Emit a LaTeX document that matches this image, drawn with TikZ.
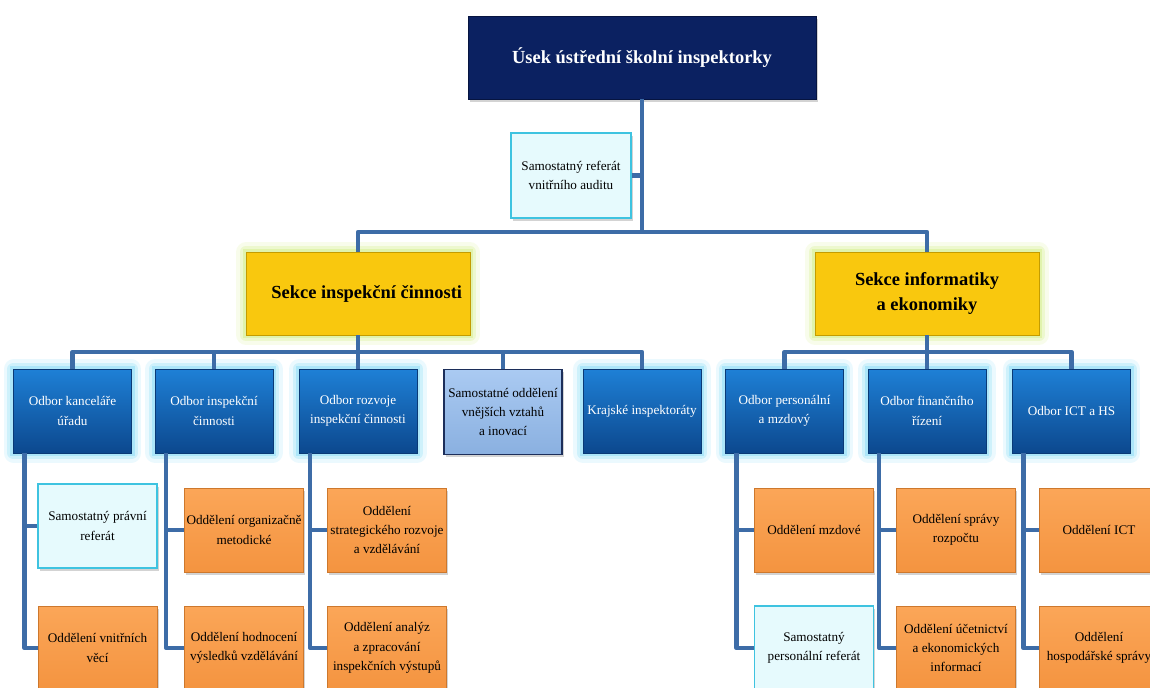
\documentclass[tikz,border=0pt]{standalone}
\usepackage{fontspec}
\setmainfont{Liberation Serif}
\usetikzlibrary{shadows}

\definecolor{navy}{RGB}{11,33,97}
\definecolor{navyline}{RGB}{6,20,64}
\definecolor{gold}{RGB}{249,200,14}
\definecolor{goldline}{RGB}{196,156,0}
\definecolor{goldglow}{RGB}{205,236,120}
\definecolor{odbtop}{RGB}{30,128,214}
\definecolor{odbbot}{RGB}{12,72,142}
\definecolor{odbline}{RGB}{10,58,118}
\definecolor{odbglow}{RGB}{120,215,245}
\definecolor{oddtop}{RGB}{251,166,88}
\definecolor{oddbot}{RGB}{244,148,64}
\definecolor{oddline}{RGB}{205,120,45}
\definecolor{reffill}{RGB}{230,250,253}
\definecolor{refline}{RGB}{62,195,224}
\definecolor{vztahtop}{RGB}{170,202,242}
\definecolor{vztahbot}{RGB}{138,176,224}
\definecolor{vztahline}{RGB}{28,46,90}
\definecolor{linka}{RGB}{61,108,167}
\def\drobne{\fontsize{7.5}{11}\selectfont}
\def\velke{\fontsize{10.5}{14.5}\selectfont\bfseries}
\tikzstyle{stin}=[drop shadow={shadow xshift=1pt,shadow yshift=-1.5pt,opacity=.35}]
\tikzstyle{usek}=[draw=navyline,fill=navy,text=white,font=\velke,
                  minimum width=6.96cm,minimum height=1.66cm,stin]
\tikzstyle{sekce}=[draw=goldline,fill=gold,font=\velke,align=center,
                   minimum width=4.48cm,minimum height=1.66cm,
                   preaction={draw=goldglow,line width=11pt,opacity=.15,line join=round},
                   preaction={draw=goldglow,line width=7pt,opacity=.25,line join=round},
                   preaction={draw=goldglow,line width=3.5pt,opacity=.4}]
\tikzstyle{odbor}=[draw=odbline,top color=odbtop,bottom color=odbbot,text=white,
                   font=\drobne,align=center,inner sep=1pt,
                   minimum width=2.36cm,minimum height=1.68cm,
                   preaction={draw=odbglow,line width=11pt,opacity=.15,line join=round},
                   preaction={draw=odbglow,line width=7pt,opacity=.25,line join=round},
                   preaction={draw=odbglow,line width=3.5pt,opacity=.4}]
\tikzstyle{vztahy}=[draw=vztahline,line width=1pt,top color=vztahtop,bottom color=vztahbot,
                    font=\drobne,align=center,inner sep=1pt,
                    minimum width=2.36cm,minimum height=1.7cm,stin]
\tikzstyle{oddeleni}=[draw=oddline,top color=oddtop,bottom color=oddbot,font=\drobne,
                      align=center,inner sep=1pt,
                      minimum width=2.38cm,minimum height=1.68cm,stin]
\tikzstyle{referat}=[draw=refline,line width=0.8pt,fill=reffill,font=\drobne,align=center,
                     inner sep=1pt,minimum width=2.38cm,minimum height=1.68cm,stin]
\tikzstyle{spoj}=[draw=linka,line width=0.09cm,line join=round]

\begin{document}
\begin{tikzpicture}[x=0.02cm,y=-0.02cm]
  \clip (0,0) rectangle (1150,687);

  % vedeni
  \node[usek] (usek) at (642,57.5) {Úsek ústřední školní inspektorky};
  \node[referat,minimum width=2.4cm,minimum height=1.7cm] (audit) at (571,175.5)
       {Samostatný referát\\vnitřního auditu};

  % sekce
  \node[sekce] (sekceI) at (358,293.5) {\hspace*{0.35cm}Sekce inspekční činnosti};
  \node[sekce] (sekceE) at (927,293.5) {Sekce informatiky\\a ekonomiky};

  \coordinate (hub) at (642,232);
  \draw[spoj] (usek.south) -- (hub) -| (sekceI.north);
  \draw[spoj] (hub) -| (sekceE.north);
  \draw[spoj] (audit.east) -- (audit.east -| usek.south);

  % odbory sekce inspekcni cinnosti
  \node[odbor] (kanc) at (72.5,411) {Odbor kanceláře\\úřadu};
  \node[odbor] (insp) at (214,411) {Odbor inspekční\\činnosti};
  \node[odbor] (rozv) at (358,411) {Odbor rozvoje\\inspekční činnosti};
  \node[vztahy] (vztah) at (503,412) {Samostatné oddělení\\vnějších vztahů\\a inovací};
  \node[odbor] (kraj) at (642,411) {Krajské inspektoráty};

  \coordinate (busI) at (358,352);
  \draw[spoj] (sekceI.south) -- (busI);
  \foreach \o in {kanc,insp,rozv,vztah,kraj}
    \draw[spoj] (busI) -| (\o.north);

  % odbory sekce informatiky a ekonomiky
  \node[odbor] (pers) at (784.5,411) {Odbor personální\\a mzdový};
  \node[odbor] (fin) at (927,411) {Odbor finančního\\řízení};
  \node[odbor] (ict) at (1071.5,411) {Odbor ICT a HS};

  \coordinate (busE) at (927,352);
  \draw[spoj] (sekceE.south) -- (busE);
  \foreach \o in {pers,fin,ict}
    \draw[spoj] (busE) -| (\o.north);

  % oddeleni
  \node[referat] (pravni) at (97.5,526) {Samostatný právní\\referát};
  \node[oddeleni] (vnitr) at (97.5,648) {Oddělení vnitřních\\věcí};
  \node[oddeleni] (organ) at (244,530) {Oddělení organizačně\\metodické};
  \node[oddeleni] (hodn) at (244,648) {Oddělení hodnocení\\výsledků vzdělávání};
  \node[oddeleni] (strat) at (387,530) {Oddělení\\strategického rozvoje\\a vzdělávání};
  \node[oddeleni] (anal) at (387,648) {Oddělení analýz\\a zpracování\\inspekčních výstupů};

  \node[oddeleni] (mzdy) at (814,530) {Oddělení mzdové};
  \node[referat] (persref) at (814,648) {Samostatný\\personální referát};
  \node[oddeleni] (rozp) at (956,530) {Oddělení správy\\rozpočtu};
  \node[oddeleni] (ucet) at (956,648) {Oddělení účetnictví\\a ekonomických\\informací};
  \node[oddeleni] (oict) at (1099,530) {Oddělení ICT};
  \node[oddeleni] (hosp) at (1099,648) {Oddělení\\hospodářské správy};

  \foreach \o/\a/\b in {kanc/pravni/vnitr,insp/organ/hodn,rozv/strat/anal,
                        pers/mzdy/persref,fin/rozp/ucet,ict/oict/hosp}{
    \draw[spoj] ([xshift=0.23cm]\o.south west) |- (\a.west);
    \draw[spoj] ([xshift=0.23cm]\o.south west) |- (\b.west);
  }
\end{tikzpicture}
\end{document}
